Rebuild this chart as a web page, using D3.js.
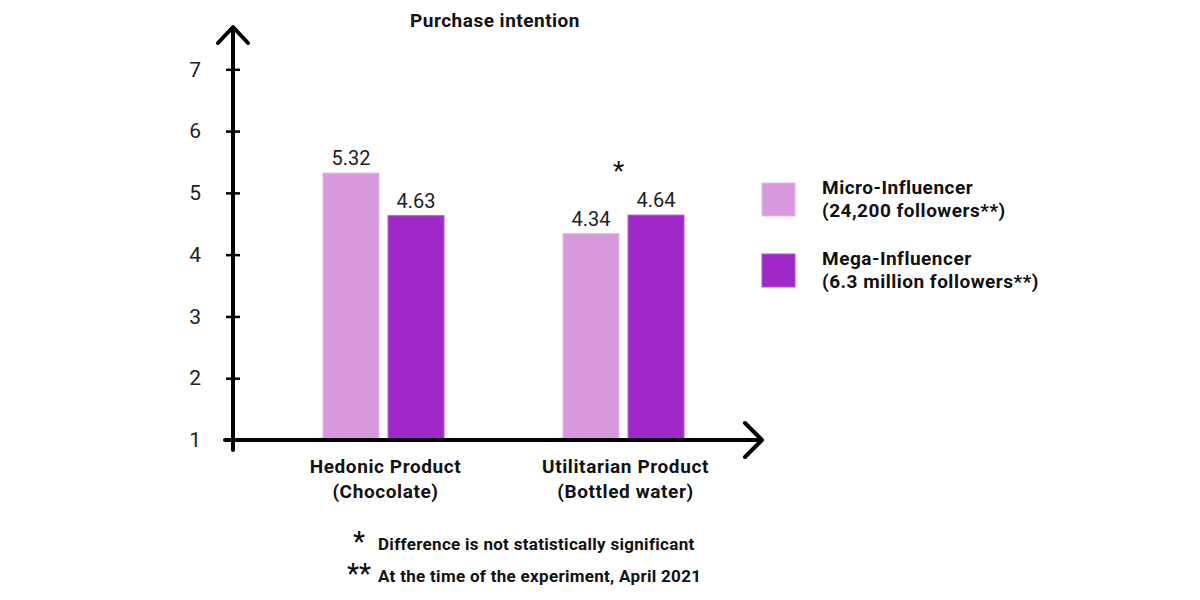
<!DOCTYPE html>
<html>
<head>
<meta charset="utf-8">
<script src="https://cdn.jsdelivr.net/npm/d3@7"></script>
<style>
  body { margin: 0; background: #fff; }
  svg { font-family: Roboto, "Noto Sans", sans-serif; }
</style>
</head>
<body>
<div id="chart"></div>
<script>
// data
const categories = ["Hedonic Product|(Chocolate)", "Utilitarian Product|(Bottled water)"];
const seriesNames = ["Micro-Influencer", "Mega-Influencer"];
const seriesSub = ["(24,200 followers**)", "(6.3 million followers**)"];
const microValues = [5.32, 4.34];
const megaValues = [4.63, 4.64];
const yTicks = [1, 2, 3, 4, 5, 6, 7];
const notSignificant = [false, true];
const footnotes = ["Difference is not statistically significant", "At the time of the experiment, April 2021"];
const footnoteMarks = ["*", "**"];

const colors = ["#d899dc", "#a027c8"];
const strokes = ["#e6b6e9", "#b550d6"];

const width = 1200, height = 600;
const svg = d3.select("#chart").append("svg")
    .attr("width", width)
    .attr("height", height);

const axisX = 233, baseY = 440;

const yScale = d3.scaleLinear().domain([1, 7]).range([baseY, 69.3]);
const xScale = d3.scaleBand().domain(categories).range([263.5, 743.5]);
const xSub = d3.scaleBand().domain(seriesNames).range([-60.5, 60.5]).paddingInner(0.14);

const data = categories.map((c, i) => ({
    cat: c,
    values: [
        { name: seriesNames[0], value: microValues[i], idx: 0 },
        { name: seriesNames[1], value: megaValues[i], idx: 1 }
    ],
    star: notSignificant[i]
}));

// bold label style used for title, categories, legend, notes
const bold = (sel, size, spacing) => sel
    .style("font-size", size + "px")
    .style("font-weight", "bold")
    .style("letter-spacing", spacing + "px")
    .attr("fill", "#111");

// title
svg.append("text")
    .attr("x", 495)
    .attr("y", 27)
    .attr("text-anchor", "middle")
    .call(bold, 19, 0.5)
    .text("Purchase intention");

// bars
const groups = svg.selectAll(".grp")
    .data(data)
    .join("g")
    .attr("class", "grp")
    .attr("transform", d => `translate(${xScale(d.cat) + xScale.bandwidth() / 2},0)`);

groups.selectAll("rect")
    .data(d => d.values)
    .join("rect")
    .attr("x", d => xSub(d.name))
    .attr("width", xSub.bandwidth())
    .attr("y", d => yScale(d.value))
    .attr("height", d => yScale(1) - yScale(d.value))
    .attr("fill", d => colors[d.idx])
    .attr("stroke", d => strokes[d.idx])
    .attr("stroke-width", 1);

groups.selectAll(".val")
    .data(d => d.values)
    .join("text")
    .attr("class", "val")
    .attr("x", d => xSub(d.name) + xSub.bandwidth() / 2)
    .attr("y", d => yScale(d.value) - 8)
    .attr("text-anchor", "middle")
    .style("font-size", "20px")
    .attr("fill", "#222")
    .text(d => d.value.toFixed(2));

groups.filter(d => d.star)
    .append("text")
    .attr("x", -5)
    .attr("y", d => yScale(d3.max(d.values, v => v.value)) - 35)
    .attr("text-anchor", "middle")
    .style("font-size", "26px")
    .attr("fill", "#111")
    .text("*");

// y axis ticks and labels
svg.append("g")
    .attr("transform", `translate(${axisX},0)`)
    .call(d3.axisLeft(yScale).tickValues(yTicks).tickSize(7).tickPadding(25).tickFormat(d3.format("d")))
    .call(g => g.select(".domain").remove())
    .call(g => g.selectAll("line").attr("stroke", "#000").attr("stroke-width", 2.5))
    .call(g => g.selectAll("text").style("font-size", "21px").attr("fill", "#222").style("font-family", "Roboto"));

svg.append("g")
    .attr("transform", `translate(${axisX},0)`)
    .call(d3.axisRight(yScale).tickValues(yTicks.slice(1)).tickSize(7).tickFormat(""))
    .call(g => g.select(".domain").remove())
    .call(g => g.selectAll("line").attr("stroke", "#000").attr("stroke-width", 2.5));

// axis lines with arrows
const ax = svg.append("g")
    .attr("fill", "none")
    .attr("stroke", "#000")
    .attr("stroke-width", 4)
    .attr("stroke-linecap", "round")
    .attr("stroke-linejoin", "round");

ax.append("line").attr("x1", axisX).attr("x2", axisX).attr("y1", 450).attr("y2", 28);
ax.append("polyline").attr("points", `${axisX - 15},43 ${axisX},27 ${axisX + 15},43`);
ax.append("line").attr("x1", 225).attr("x2", 761).attr("y1", baseY).attr("y2", baseY);
ax.append("polyline").attr("points", `745,423 762,${baseY} 745,457`);

// category labels
svg.selectAll(".cat")
    .data(categories)
    .join("text")
    .attr("class", "cat")
    .attr("x", d => xScale(d) + xScale.bandwidth() / 2 + 2)
    .attr("y", 473)
    .attr("text-anchor", "middle")
    .call(bold, 19, 0.6)
    .selectAll("tspan")
    .data(d => d.split("|"))
    .join("tspan")
    .attr("x", function () { return this.parentNode.getAttribute("x"); })
    .attr("dy", (d, i) => i === 0 ? 0 : 25)
    .text(d => d);

// legend
const legend = svg.selectAll(".leg")
    .data(seriesNames)
    .join("g")
    .attr("class", "leg")
    .attr("transform", (d, i) => `translate(762,${183 + i * 71})`);

legend.append("rect")
    .attr("width", 33)
    .attr("height", 33)
    .attr("fill", (d, i) => colors[i])
    .attr("stroke", (d, i) => strokes[i]);

legend.append("text")
    .attr("x", 60)
    .attr("y", 11)
    .call(bold, 19, 0.5)
    .text(d => d);

legend.append("text")
    .attr("x", 60)
    .attr("y", 34)
    .call(bold, 19, 0.5)
    .text((d, i) => seriesSub[i]);

// footnotes
const notes = svg.selectAll(".note")
    .data(footnotes)
    .join("g")
    .attr("class", "note")
    .attr("transform", (d, i) => `translate(0,${550 + i * 32})`);

notes.append("text")
    .attr("x", 359)
    .attr("y", 1)
    .attr("text-anchor", "middle")
    .style("font-size", "27px")
    .style("font-weight", 500)
    .attr("fill", "#111")
    .text((d, i) => footnoteMarks[i]);

notes.append("text")
    .attr("x", 378)
    .attr("y", 0)
    .call(bold, 17, 0.3)
    .text(d => d);
</script>
</body>
</html>
